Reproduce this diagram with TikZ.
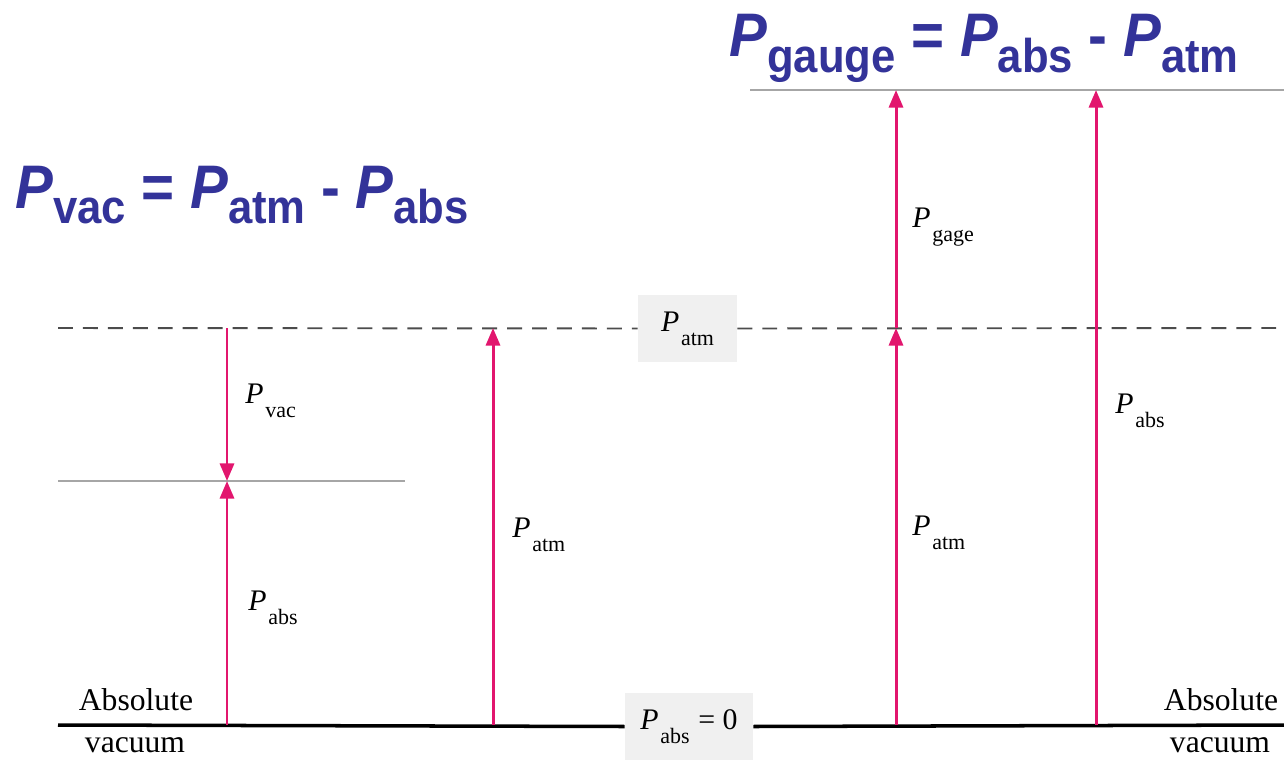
\documentclass[tikz,border=0pt]{standalone}
\usepackage{fontspec}
\setmainfont{Liberation Serif}
\newfontfamily\formfont{Liberation Sans}
\usetikzlibrary{arrows.meta}
\definecolor{pinkline}{RGB}{226,22,110}
\definecolor{formblue}{RGB}{51,51,153}
\definecolor{boxgray}{RGB}{240,240,240}
\newcommand{\plbl}[1]{{\fontsize{17}{17}\selectfont\textit{P}\hspace{1pt}\raisebox{-8pt}{\fontsize{12.5}{12.5}\selectfont #1}}}
\newcommand{\pform}[1]{{\fontsize{35}{35}\selectfont\itshape P}\raisebox{-9pt}{\fontsize{27}{27}\selectfont #1}}
\def\xleft{58}
\def\xright{1284}
\def\yzero{725}
\def\yatm{328}
\def\yvac{481}
\def\ygauge{90}

\begin{document}
\begin{tikzpicture}[x=0.02cm, y=-0.02cm,
    pres/.style={draw=pinkline, line width=1.7pt, -{Triangle[width=8pt, length=10pt]}},
    lbl/.style={anchor=base west, inner sep=0pt},
    vactext/.style={anchor=base, inner sep=0pt, font=\fontsize{18}{18}\selectfont},
    formula/.style={anchor=base west, inner sep=0pt, text=formblue, font=\formfont\bfseries\fontsize{35}{35}\selectfont},
    graybox/.style={fill=boxgray, inner sep=0pt, minimum height=1.34cm}]
    \useasboundingbox (0,0) rectangle (1284,767);

    % Points on the four levels, one per arrow column.
    \coordinate (v0) at (227, \yzero);
    \coordinate (v1) at (227, \yvac);
    \coordinate (v2) at (227, \yatm);
    \coordinate (a0) at (493, \yzero);
    \coordinate (a1) at (493, \yatm);
    \coordinate (g0) at (896, \yzero);
    \coordinate (g1) at (896, \yatm);
    \coordinate (g2) at (896, \ygauge);
    \coordinate (b0) at (1096, \yzero);
    \coordinate (b1) at (1096, \ygauge);
    % Ends of the horizontal levels.
    \coordinate (zeroL) at (\xleft, \yzero);
    \coordinate (zeroR) at (\xright, \yzero);
    \coordinate (atmL) at (\xleft, \yatm);
    \coordinate (atmR) at (\xright, \yatm);
    \coordinate (vacL) at (\xleft, \yvac);
    \coordinate (vacR) at (405, \yvac);
    \coordinate (gaugeL) at (750, \ygauge);
    \coordinate (gaugeR) at (\xright, \ygauge);

    % Level labels in gray boxes.
    \node[graybox, minimum width=1.98cm] (atmbox) at (687.5, 328.5) {\plbl{atm}};
    \node[graybox, minimum width=2.56cm] (zerobox) at (689, 726.5) {\plbl{abs}{\fontsize{17}{17}\selectfont\hspace{5pt}= 0}};

    % Horizontal levels.
    \draw[black, line width=2pt] (zeroL) -- (zerobox.west);
    \draw[black, line width=2pt] (zerobox.east) -- (zeroR);
    \draw[black!70, line width=1.1pt, dash pattern=on 8.5pt off 5.7pt] (atmL) -- (atmbox.west);
    \draw[black!70, line width=1.1pt, dash pattern=on 8.5pt off 5.7pt] (atmbox.east) -- (atmR);
    \draw[black!35, line width=1.4pt] (vacL) -- (vacR);
    \draw[black!35, line width=1.4pt] (gaugeL) -- (gaugeR);

    % Pressure arrows.
    \draw[pres] (v2) -- (v1);
    \draw[pres] (v0) -- (v1);
    \draw[pres] (a0) -- (a1);
    \draw[pres] (g0) -- (g1);
    \draw[pres] (g1) -- (g2);
    \draw[pres] (b0) -- (b1);

    % Arrow labels.
    \node[lbl] (lvac) at (245, 403) {\plbl{vac}};
    \node[lbl] (labsL) at (248, 610) {\plbl{abs}};
    \node[lbl] (latmM) at (512, 537) {\plbl{atm}};
    \node[lbl] (lgage) at (912, 227) {\plbl{gage}};
    \node[lbl] (latmR) at (912, 535) {\plbl{atm}};
    \node[lbl] (labsR) at (1115, 413) {\plbl{abs}};

    % Absolute vacuum, on both ends.
    \node[vactext] (absL) at (136, 710) {Absolute};
    \node[vactext] (vacuL) at (135, 752) {vacuum};
    \node[vactext] (absR) at (1221, 710) {Absolute};
    \node[vactext] (vacuR) at (1220, 752) {vacuum};

    % Formulas.
    \node[formula] (fvac) at (15, 208)
        {\scalebox{0.92}[1]{\pform{vac} = \pform{atm} - \pform{abs}}};
    \node[formula] (fgauge) at (729, 57)
        {\scalebox{0.92}[1]{\pform{gauge} = \pform{abs} - \pform{atm}}};
\end{tikzpicture}
\end{document}
